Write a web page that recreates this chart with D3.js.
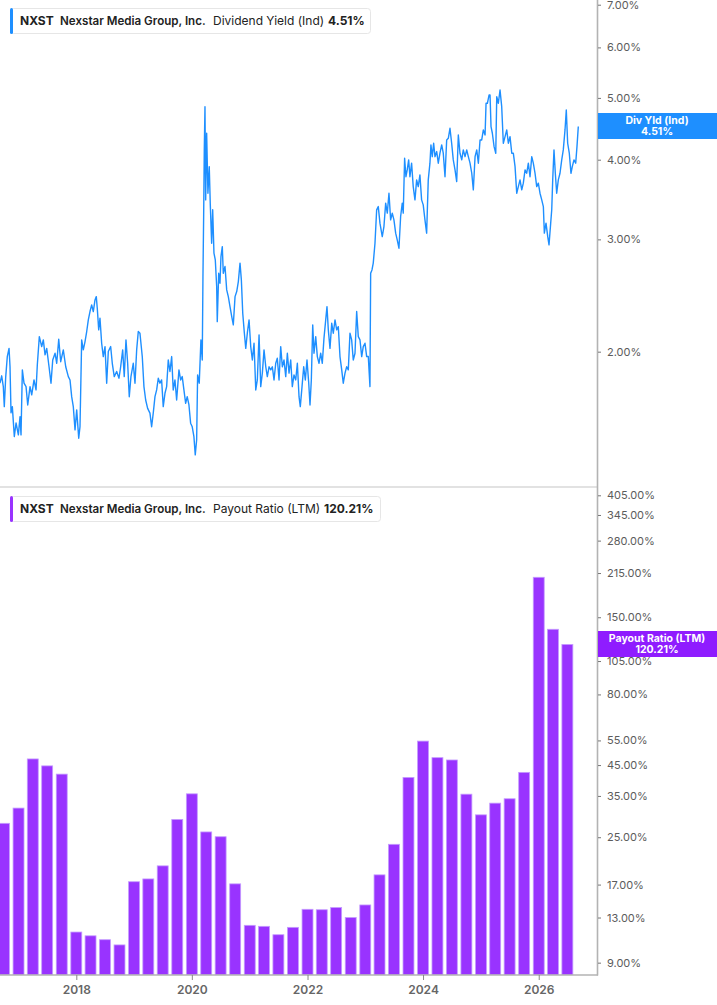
<!DOCTYPE html>
<html>
<head>
<meta charset="utf-8">
<script src="https://cdn.jsdelivr.net/npm/d3@7/dist/d3.min.js"></script>
<style>
  html, body { margin: 0; padding: 0; background: #fff; }
  svg { display: block; font-family: Inter, "Noto Sans", sans-serif; }
</style>
</head>
<body>
<svg id="chart" width="717" height="1005"></svg>
<script>
// ---------------- DATA ----------------
// Dividend yield (indicated), % — dates as decimal years
const yieldYears = [2016.680,2016.709,2016.737,2016.754,2016.779,2016.806,2016.836,2016.853,2016.870,2016.893,2016.927,2016.957,2016.997,2017.026,2017.043,2017.066,2017.095,2017.130,2017.159,2017.199,2017.228,2017.268,2017.303,2017.325,2017.360,2017.401,2017.429,2017.459,2017.488,2017.528,2017.562,2017.592,2017.632,2017.661,2017.696,2017.730,2017.775,2017.817,2017.862,2017.891,2017.920,2017.948,2017.978,2018.007,2018.042,2018.064,2018.093,2018.121,2018.151,2018.180,2018.208,2018.237,2018.266,2018.294,2018.324,2018.346,2018.363,2018.388,2018.410,2018.439,2018.467,2018.497,2018.526,2018.554,2018.595,2018.623,2018.657,2018.699,2018.739,2018.768,2018.803,2018.830,2018.860,2018.889,2018.917,2018.946,2018.986,2019.016,2019.045,2019.073,2019.102,2019.142,2019.171,2019.201,2019.235,2019.275,2019.304,2019.332,2019.362,2019.391,2019.419,2019.448,2019.477,2019.505,2019.535,2019.564,2019.592,2019.621,2019.651,2019.678,2019.708,2019.737,2019.777,2019.806,2019.834,2019.863,2019.893,2019.920,2019.950,2019.979,2020.007,2020.036,2020.059,2020.083,2020.100,2020.128,2020.157,2020.180,2020.192,2020.204,2020.215,2020.227,2020.239,2020.256,2020.278,2020.301,2020.318,2020.342,2020.360,2020.382,2020.405,2020.429,2020.439,2020.464,2020.486,2020.503,2020.526,2020.543,2020.573,2020.602,2020.630,2020.659,2020.689,2020.716,2020.746,2020.775,2020.803,2020.832,2020.855,2020.879,2020.907,2020.931,2020.958,2020.988,2021.017,2021.045,2021.074,2021.104,2021.131,2021.161,2021.190,2021.218,2021.247,2021.277,2021.304,2021.334,2021.363,2021.391,2021.420,2021.450,2021.477,2021.507,2021.536,2021.564,2021.593,2021.623,2021.651,2021.680,2021.709,2021.737,2021.766,2021.796,2021.824,2021.853,2021.875,2021.905,2021.934,2021.962,2021.991,2022.021,2022.043,2022.066,2022.090,2022.112,2022.142,2022.170,2022.199,2022.228,2022.256,2022.285,2022.315,2022.337,2022.360,2022.389,2022.419,2022.446,2022.476,2022.505,2022.533,2022.562,2022.592,2022.619,2022.649,2022.678,2022.706,2022.735,2022.764,2022.792,2022.822,2022.851,2022.879,2022.908,2022.938,2022.965,2022.995,2023.024,2023.052,2023.081,2023.093,2023.116,2023.138,2023.168,2023.197,2023.225,2023.254,2023.294,2023.323,2023.353,2023.381,2023.410,2023.439,2023.467,2023.496,2023.526,2023.553,2023.583,2023.612,2023.640,2023.657,2023.681,2023.704,2023.726,2023.751,2023.773,2023.802,2023.830,2023.860,2023.889,2023.917,2023.946,2023.975,2024.003,2024.033,2024.062,2024.090,2024.119,2024.136,2024.159,2024.183,2024.206,2024.236,2024.263,2024.292,2024.322,2024.349,2024.379,2024.408,2024.436,2024.465,2024.494,2024.522,2024.552,2024.581,2024.609,2024.638,2024.668,2024.695,2024.725,2024.754,2024.782,2024.811,2024.841,2024.868,2024.898,2024.927,2024.955,2024.984,2025.013,2025.041,2025.071,2025.088,2025.111,2025.140,2025.157,2025.174,2025.197,2025.227,2025.256,2025.273,2025.301,2025.330,2025.359,2025.387,2025.417,2025.446,2025.474,2025.503,2025.533,2025.560,2025.590,2025.619,2025.647,2025.676,2025.706,2025.733,2025.763,2025.792,2025.820,2025.849,2025.879,2025.906,2025.936,2025.965,2025.993,2026.022,2026.052,2026.080,2026.097,2026.126,2026.156,2026.178,2026.207,2026.225,2026.242,2026.264,2026.287,2026.311,2026.339,2026.368,2026.398,2026.425,2026.455,2026.477,2026.501,2026.529,2026.558,2026.581,2026.610,2026.640,2026.662,2026.685];
const yieldValues = [1.785,1.833,1.763,1.640,1.828,1.965,2.024,1.894,1.604,1.640,1.472,1.546,1.481,1.582,1.481,1.873,1.785,1.763,1.650,1.763,1.711,1.806,1.742,1.906,2.112,2.037,2.087,1.977,2.024,1.894,1.785,1.941,1.989,1.918,2.092,1.929,2.013,1.894,1.828,1.806,1.700,1.640,1.508,1.621,1.463,1.525,2.087,2.013,2.074,2.151,2.243,2.312,2.368,2.312,2.411,2.440,2.339,2.164,2.257,2.062,1.965,2.037,1.785,2.001,2.037,1.918,1.828,1.862,1.817,1.894,2.013,1.828,2.087,1.918,1.700,1.828,1.918,1.785,2.013,2.151,2.138,1.965,1.763,1.680,1.630,1.602,1.525,1.602,1.700,1.742,1.817,1.785,1.806,1.640,1.721,1.763,1.941,1.862,1.965,1.742,1.806,1.680,1.873,1.806,1.828,1.742,1.660,1.700,1.650,1.545,1.525,1.472,1.378,1.454,1.839,1.785,2.087,1.941,2.622,3.258,4.144,4.844,3.460,4.401,3.544,3.901,3.419,2.959,3.338,2.855,2.787,2.530,2.229,2.655,2.561,2.820,2.923,2.655,2.720,2.500,2.440,2.353,2.270,2.203,2.440,2.485,2.576,2.754,2.592,2.298,2.138,2.024,2.138,2.243,2.037,1.941,2.062,1.742,1.806,2.125,1.763,1.851,2.013,1.894,1.828,1.894,1.873,1.894,1.806,1.918,1.953,1.806,2.037,1.894,1.941,1.828,1.989,1.851,1.941,1.763,1.839,1.806,1.918,1.700,1.640,1.763,1.894,1.806,1.941,1.785,1.650,1.806,2.203,1.989,2.112,1.965,1.918,1.989,1.918,2.100,2.243,2.353,2.164,2.024,2.216,2.138,2.243,2.164,2.189,1.965,1.873,1.785,1.851,1.894,1.873,2.138,2.087,1.941,1.989,2.312,2.112,2.087,1.965,2.037,2.062,1.965,1.965,1.763,2.655,2.687,2.754,2.959,3.338,3.377,3.181,3.030,3.142,3.419,3.298,3.544,3.219,3.298,3.219,3.068,2.995,2.906,3.258,3.419,3.298,4.020,3.762,3.855,3.997,3.762,3.950,3.630,3.460,3.719,3.630,3.786,3.460,3.398,3.219,3.068,3.719,3.950,4.219,4.044,4.245,4.044,4.119,3.950,4.095,4.219,4.095,3.762,4.296,4.322,4.480,4.245,3.997,3.855,3.696,4.374,4.095,3.997,4.144,4.044,4.144,4.044,3.950,3.809,3.587,4.044,4.144,3.950,4.296,4.296,4.454,4.374,4.904,4.904,5.052,5.052,4.506,4.401,4.193,4.095,5.020,4.904,5.144,4.844,4.245,4.347,4.454,4.245,4.347,4.095,4.095,3.901,3.544,3.630,3.719,3.587,3.675,3.855,3.809,3.950,3.762,4.044,3.950,3.809,3.630,3.675,3.544,3.460,3.377,3.068,3.181,3.030,2.941,3.181,3.338,3.719,4.144,3.809,3.544,3.719,3.809,3.997,4.144,4.454,4.786,4.245,4.095,3.809,3.901,3.997,3.950,4.193,4.51];

// Payout ratio (LTM), % — quarterly
const payoutDates = ["2016-10-01","2017-01-01","2017-04-01","2017-07-01","2017-10-01","2018-01-01","2018-04-01","2018-07-01","2018-10-01","2019-01-01","2019-04-01","2019-07-01","2019-10-01","2020-01-01","2020-04-01","2020-07-01","2020-10-01","2021-01-01","2021-04-01","2021-07-01","2021-10-01","2022-01-01","2022-04-01","2022-07-01","2022-10-01","2023-01-01","2023-04-01","2023-07-01","2023-10-01","2024-01-01","2024-04-01","2024-07-01","2024-10-01","2025-01-01","2025-04-01","2025-07-01","2025-10-01","2026-01-01","2026-04-01","2026-07-01"];
const payoutValues = [28.0,31.7,47.3,44.7,41.8,11.55,11.2,10.85,10.4,17.4,17.8,19.8,28.9,35.6,26.1,25.1,17.1,12.2,12.1,11.3,12.0,13.9,13.85,14.1,13.0,14.4,18.4,23.6,40.7,54.7,47.8,46.9,35.5,30.0,33.0,34.2,42.4,207.7,136.0,120.21];

const yieldTicks = [2, 3, 4, 5, 6, 7];
const payoutTicks = [9, 13, 17, 25, 35, 45, 55, 80, 105, 120, 150, 215, 280, 345, 405];
const yearTicks = ["2018-01-01", "2020-01-01", "2022-01-01", "2024-01-01", "2026-01-01"];
const xDomainYears = [2016.68, 2027.026];
const yieldDomain = [1.227, 7.12];
const payoutDomain = [8.14, 429.8];

const legendTop = { ticker: "NXST", name: "Nexstar Media Group, Inc.", metric: "Dividend Yield (Ind)", value: "4.51%" };
const legendBottom = { ticker: "NXST", name: "Nexstar Media Group, Inc.", metric: "Payout Ratio (LTM)", value: "120.21%" };
const lastYieldLabel = ["Div Yld (Ind)", "4.51%"];
const lastPayoutLabel = ["Payout Ratio (LTM)", "120.21%"];

// ---------------- HELPERS ----------------
function decToDate(d) {
  const y = Math.floor(d);
  const s = Date.UTC(y, 0, 1), e = Date.UTC(y + 1, 0, 1);
  return new Date(s + (d - y) * (e - s));
}
const parse = d3.utcParse("%Y-%m-%d");
const pct = v => v.toFixed(2) + "%";

const BLUE = "#1e8fff";
const PURPLE = "#9933ff";
const PURPLE_BOX = "#8f1cff";

const svg = d3.select("#chart");
const plotRight = 598;
const topY0 = 0, topY1 = 487;
const botY0 = 488, botY1 = 975;

const x = d3.scaleUtc().domain(xDomainYears.map(decToDate)).range([0, plotRight]);
const yTop = d3.scaleLog().domain(yieldDomain).range([topY1, topY0]);
const yBot = d3.scaleLog().domain(payoutDomain).range([botY1, botY0]);

// clip paths
const defs = svg.append("defs");
defs.append("clipPath").attr("id", "clipTop").append("rect")
  .attr("x", 0).attr("y", topY0).attr("width", plotRight).attr("height", topY1 - topY0);
defs.append("clipPath").attr("id", "clipBot").append("rect")
  .attr("x", 0).attr("y", botY0).attr("width", plotRight).attr("height", botY1 - botY0);

// separator between panels
svg.append("line").attr("x1", 0).attr("x2", plotRight).attr("y1", 487).attr("y2", 487)
  .attr("stroke", "#e2e2e2").attr("stroke-width", 2);

// ---------------- TOP: line ----------------
const lineData = yieldYears.map((yr, i) => ({ date: decToDate(yr), v: yieldValues[i] }));
const line = d3.line().x(d => x(d.date)).y(d => yTop(d.v));
svg.append("path").datum(lineData)
  .attr("clip-path", "url(#clipTop)")
  .attr("fill", "none").attr("stroke", BLUE).attr("stroke-width", 1.4)
  .attr("stroke-linejoin", "round")
  .attr("d", line);

// ---------------- BOTTOM: bars ----------------
const barData = payoutDates.map((d, i) => ({ date: parse(d), v: payoutValues[i] }));
const step = x(parse("2020-04-01")) - x(parse("2020-01-01"));
const bw = step * 0.76;
svg.append("g").attr("clip-path", "url(#clipBot)")
  .selectAll("rect").data(barData).join("rect")
  .attr("x", d => x(d.date) - bw / 2)
  .attr("y", d => yBot(d.v))
  .attr("width", bw)
  .attr("height", d => botY1 - yBot(d.v))
  .attr("fill", PURPLE)
  .attr("stroke", "#c49bff").attr("stroke-width", 0.8);

// ---------------- AXES ----------------
const axisColor = "#b3b3b3";
svg.append("line").attr("x1", plotRight - 0.5).attr("x2", plotRight - 0.5)
  .attr("y1", 0).attr("y2", botY1 + 0.5).attr("stroke", axisColor).attr("stroke-width", 1.6);
svg.append("line").attr("x1", 0).attr("x2", plotRight).attr("y1", botY1).attr("y2", botY1)
  .attr("stroke", axisColor).attr("stroke-width", 1.6);

const gTop = svg.append("g").attr("transform", `translate(${plotRight},0)`)
  .call(d3.axisRight(yTop).tickValues(yieldTicks).tickFormat(pct).tickSize(3).tickPadding(6));
const gBot = svg.append("g").attr("transform", `translate(${plotRight},0)`)
  .call(d3.axisRight(yBot).tickValues(payoutTicks).tickFormat(pct).tickSize(3).tickPadding(6));
[gTop, gBot].forEach(g => {
  g.select(".domain").remove();
  g.selectAll(".tick line").attr("stroke", "#777");
  g.selectAll(".tick text").attr("fill", "#5c5c5c").style("font-size", "11px")
    .style("font-family", "Inter, 'Noto Sans', sans-serif");
});

const gx = svg.append("g").attr("transform", `translate(0,${botY1})`)
  .call(d3.axisBottom(x).tickValues(yearTicks.map(parse)).tickFormat(d3.utcFormat("%Y")).tickSize(5).tickPadding(5));
gx.select(".domain").remove();
gx.selectAll(".tick line").attr("stroke", "#888");
gx.selectAll(".tick text").attr("fill", "#666").style("font-size", "12px").style("font-weight", 600)
  .style("font-family", "Inter, 'Noto Sans', sans-serif");

// ---------------- LAST VALUE LABELS ----------------
function lastLabel(yCenter, color, lines) {
  const h = 26;
  const g = svg.append("g");
  g.append("rect").attr("x", plotRight).attr("y", yCenter - h / 2).attr("width", 717 - plotRight).attr("height", h)
    .attr("fill", color);
  g.selectAll("text").data(lines).join("text")
    .attr("x", 657).attr("y", (d, i) => yCenter - 2.5 + i * 11)
    .attr("text-anchor", "middle").attr("fill", "#fff")
    .style("font-size", "10.5px").style("font-weight", 700).text(d => d);
}
lastLabel(126, BLUE, lastYieldLabel);
lastLabel(644, PURPLE_BOX, lastPayoutLabel);

// ---------------- LEGENDS ----------------
function legend(y, w, color, info, valueX) {
  const g = svg.append("g");
  g.append("rect").attr("x", 10.5).attr("y", y + 0.5).attr("width", w).attr("height", 25).attr("rx", 3)
    .attr("fill", "#fff").attr("stroke", "#e6e6e6");
  g.append("rect").attr("x", 10).attr("y", y).attr("width", 3).attr("height", 26).attr("rx", 1.5).attr("fill", color);
  const base = y + 17;
  const items = [
    { t: info.ticker, x: 20, w: 700, s: 12 },
    { t: info.name, x: 60, w: 600, s: 11.6 },
    { t: info.metric, x: 213, w: 400, s: 12 },
    { t: info.value, x: valueX, w: 700, s: 12 }
  ];
  g.selectAll("text").data(items).join("text")
    .attr("x", d => d.x).attr("y", base).attr("fill", "#222")
    .style("font-size", d => d.s + "px").style("font-weight", d => d.w).text(d => d.t);
}
legend(8, 360, BLUE, legendTop, 328);
legend(496, 370, PURPLE, legendBottom, 324);
</script>
</body>
</html>
